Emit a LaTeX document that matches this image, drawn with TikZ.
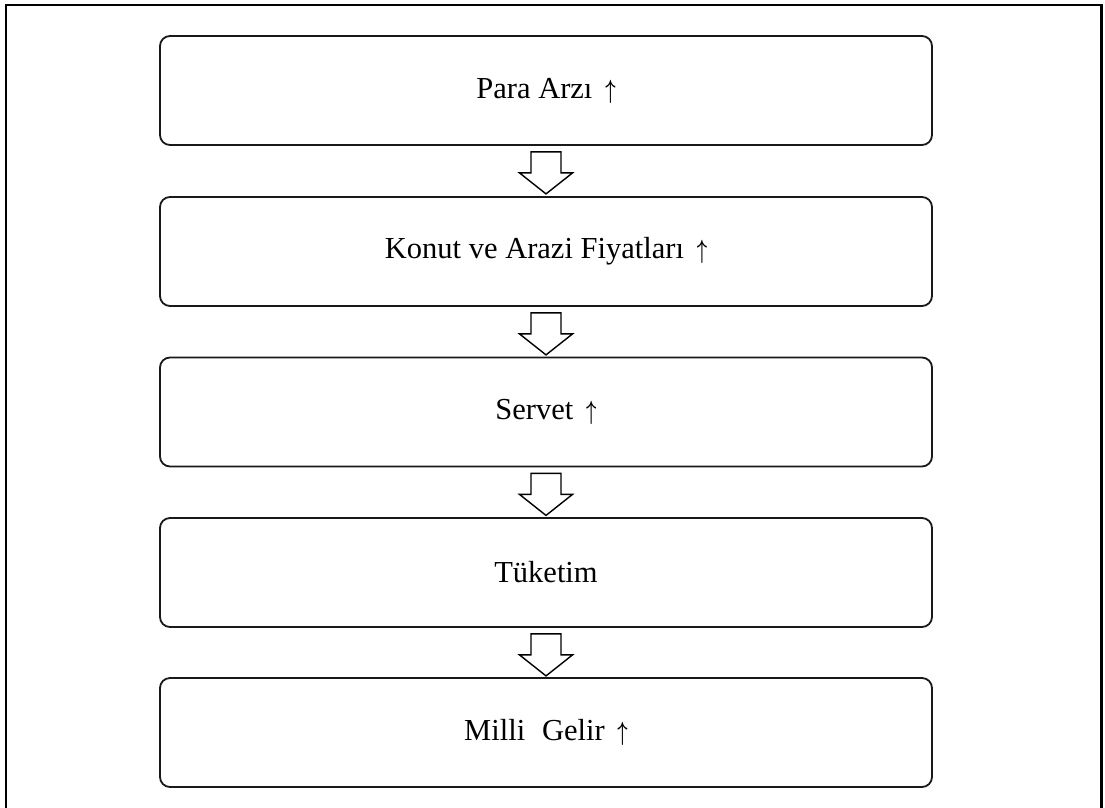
\documentclass[tikz,border=0pt]{standalone}
\usepackage{graphicx}
\usepackage{bm}
\usepackage{fontspec}
\setmainfont{Liberation Serif}
\newcommand{\upmark}{\hspace{0.42em}\scalebox{0.72}[1.06]{$\bm{\uparrow}$}}
\begin{document}
\begin{tikzpicture}[x=1pt,y=-1pt,
  stepbox/.style={draw=black!90, line width=1.8pt, rounded corners=10pt,
    minimum width=772pt, minimum height=109pt, inner sep=0pt,
    font=\fontsize{30.5}{36}\selectfont},
  hollowarrow/.style={draw=black, line width=1.4pt, fill=white, line join=miter}
]
\clip (0,0) rectangle (1105,807);
\fill[white] (0,0) rectangle (1105,807);
% outer frame, running past the lower edge
\draw[line width=2.2pt] (6,5) rectangle (1101.5,830);

\node[stepbox] (b1) at (546,90.5)  {Para Arzı\upmark};
\node[stepbox] (b2) at (546,251.5) {Konut ve Arazi Fiyatları\upmark};
\node[stepbox] (b3) at (546,412)   {Servet\upmark};
\node[stepbox] (b4) at (546,572.5) {Tüketim};
\node[stepbox] (b5) at (546,732.5) {Milli\hspace{0.55em}Gelir\upmark};

% hollow block arrows between consecutive boxes
\foreach \a/\b in {b1/b2,b2/b3,b3/b4,b4/b5}{
  \draw[hollowarrow, shift={(\a.south)}]
    (-15,6) -- (15,6) -- (15,27) -- (26.5,27) -- (0,48)
    -- (-26.5,27) -- (-15,27) -- cycle;
}
\end{tikzpicture}
\end{document}
